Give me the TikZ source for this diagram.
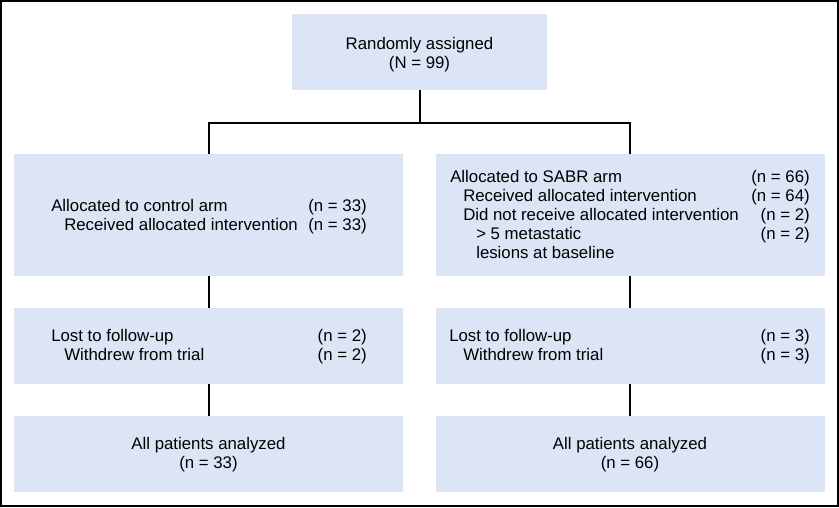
\documentclass[tikz,border=0pt]{standalone}
\usepackage{fontspec}
\setmainfont{Liberation Sans}
\definecolor{boxblue}{RGB}{219,229,246}

\begin{document}
\begin{tikzpicture}[x=0.75pt,y=0.75pt,yscale=-1,xscale=1,
	box/.style={fill=boxblue, inner sep=0pt, minimum height=57pt},
	wide/.style={box, minimum width=291.75pt},
	txt/.style={inner sep=0pt, font=\fontsize{12.6}{15}\selectfont},
	link/.style={line width=1.5}]
	\useasboundingbox (0,0) rectangle (839,507);

	%Frame
	\draw [line width=1.2]  (0.8,0.8) rectangle (838.2,506.2) ;

	% Boxes
	\node (rand) [box, minimum width=191.25pt] at (419.5,52) {};
	\node (ctrl) [wide, minimum height=91.5pt] at (208.5,215) {};
	\node (sabr) [wide, minimum height=91.5pt] at (630,215) {};
	\node (lostC) [wide] at (208.5,346) {};
	\node (lostS) [wide] at (630,346) {};
	\node (allC) [wide] at (208.5,454) {};
	\node (allS) [wide] at (630,454) {};

	% Text Node
	\node (randA) [txt, anchor=base] at (419.5,49) {Randomly assigned};
	\node (randB) [txt, anchor=base] at (419.5,68) {(N = 99)};
	% Text Node
	\node (ctrlA) [txt, anchor=base west] at (51,211) {Allocated to control arm};
	\node (ctrlB) [txt, anchor=base west] at (64,230) {Received allocated intervention};
	\node (ctrlNA) [txt, anchor=base east] at (367,211) {(n = 33)};
	\node (ctrlNB) [txt, anchor=base east] at (367,230) {(n = 33)};
	% Text Node
	\node (sabrA) [txt, anchor=base west] at (450,182) {Allocated to SABR arm};
	\node (sabrB) [txt, anchor=base west] at (463,201) {Received allocated intervention};
	\node (sabrC) [txt, anchor=base west] at (463,220) {Did not receive allocated intervention};
	\node (sabrD) [txt, anchor=base west] at (476,239) {> 5 metastatic};
	\node (sabrE) [txt, anchor=base west] at (476,258) {lesions at baseline};
	\node (sabrNA) [txt, anchor=base east] at (810,182) {(n = 66)};
	\node (sabrNB) [txt, anchor=base east] at (810,201) {(n = 64)};
	\node (sabrNC) [txt, anchor=base east] at (810,220) {(n = 2)};
	\node (sabrND) [txt, anchor=base east] at (810,239) {(n = 2)};
	% Text Node
	\node (lostCA) [txt, anchor=base west] at (51,341) {Lost to follow-up};
	\node (lostCB) [txt, anchor=base west] at (64,360) {Withdrew from trial};
	\node (lostCNA) [txt, anchor=base east] at (367,341) {(n = 2)};
	\node (lostCNB) [txt, anchor=base east] at (367,360) {(n = 2)};
	% Text Node
	\node (lostSA) [txt, anchor=base west] at (449,341) {Lost to follow-up};
	\node (lostSB) [txt, anchor=base west] at (463,360) {Withdrew from trial};
	\node (lostSNA) [txt, anchor=base east] at (810,341) {(n = 3)};
	\node (lostSNB) [txt, anchor=base east] at (810,360) {(n = 3)};
	% Text Node
	\node (allCA) [txt, anchor=base] at (208.5,449) {All patients analyzed};
	\node (allCB) [txt, anchor=base] at (208.5,468) {(n = 33)};
	\node (allSA) [txt, anchor=base] at (630,449) {All patients analyzed};
	\node (allSB) [txt, anchor=base] at (630,468) {(n = 66)};

	% Connection
	\coordinate (split) at (419.5,123);
	\draw [link]    (rand) -- (split) ;
	\draw [link]    (ctrl) |- (split) -| (sabr) ;
	% Connection
	\draw [link]    (ctrl) -- (lostC) ;
	\draw [link]    (lostC) -- (allC) ;
	% Connection
	\draw [link]    (sabr) -- (lostS) ;
	\draw [link]    (lostS) -- (allS) ;

\end{tikzpicture}
\end{document}
